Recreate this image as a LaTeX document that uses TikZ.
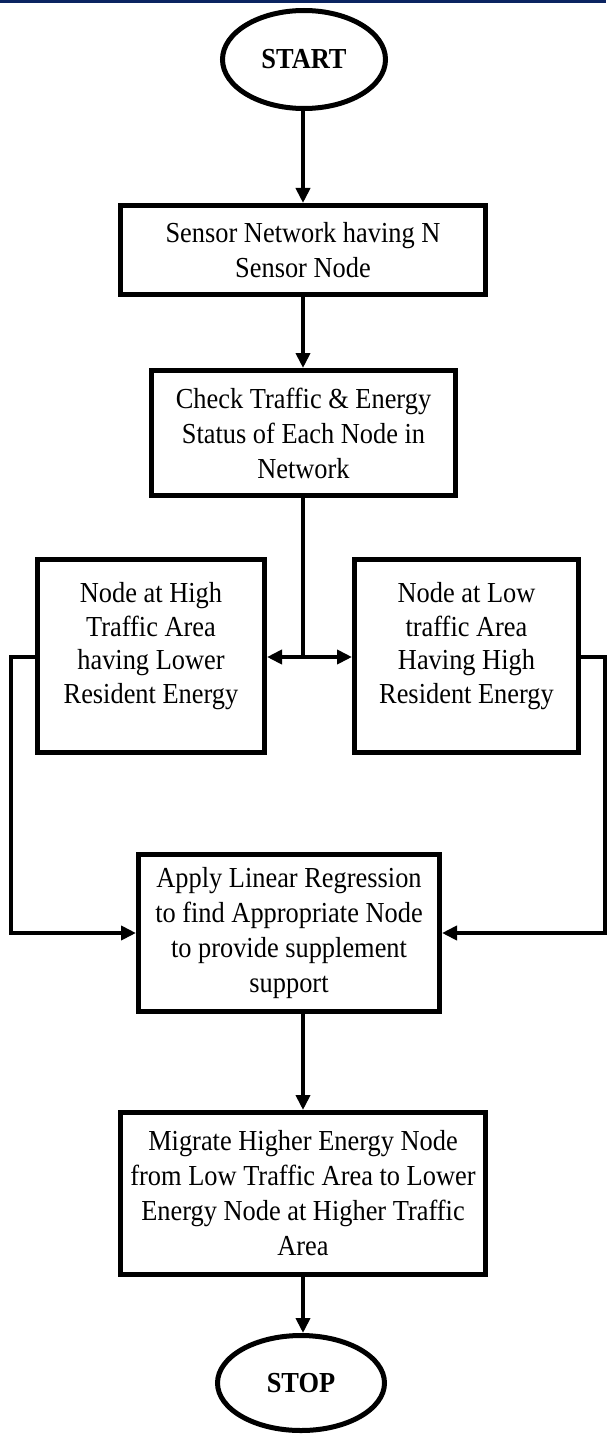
\documentclass[tikz,border=0pt]{standalone}
\usepackage{fontspec}
\setmainfont{Liberation Serif}[FakeStretch=0.91]
\usetikzlibrary{arrows.meta,shapes.geometric}
\definecolor{barblue}{HTML}{0B2461}
\newcommand\chartfont{\fontsize{29}{35}\selectfont}

\begin{document}
\begin{tikzpicture}[x=1pt,y=-1pt,
  procbox/.style={draw, line width=5pt, inner sep=0pt, align=center, font=\chartfont},
  boxtext/.style={inner sep=0pt, align=center, font=\fontsize{29}{33.5}\selectfont},
  terminal/.style={draw, ellipse, line width=5pt, inner sep=0pt, font=\chartfont\bfseries},
  link/.style={line width=4pt},
  flow/.style={line width=4pt, -{Triangle[length=15pt,width=14pt]}}]

\useasboundingbox (0,0) rectangle (606,1434);
\fill[barblue] (0,0) rectangle (606,3);

% terminals and process boxes
\node[terminal, minimum width=163, minimum height=98] (start) at (304,59.5) {START};
\node[procbox, minimum width=365, minimum height=89] (sense) at (303,250)
  {Sensor Network having N\\Sensor Node};
\node[procbox, minimum width=304, minimum height=125] (check) at (303.5,433)
  {Check Traffic \& Energy\\Status of Each Node in\\Network};

\node[procbox, minimum width=227, minimum height=193] (hi) at (151,656) {};
\node[boxtext] (hitext) at (151,646)
  {Node at High\\Traffic Area\\having Lower\\Resident Energy};
\node[procbox, minimum width=224, minimum height=193] (lo) at (466.5,656) {};
\node[boxtext] (lotext) at (466.5,646)
  {Node at Low\\traffic Area\\Having High\\Resident Energy};

\node[procbox, minimum width=301, minimum height=157] (apply) at (289,933)
  {Apply Linear Regression\\to find Appropriate Node\\to provide supplement\\support};
\node[procbox, minimum width=365, minimum height=162] (migrate) at (303,1193.5)
  {Migrate Higher Energy Node\\from Low Traffic Area to Lower\\Energy Node at Higher Traffic\\Area};
\node[terminal, minimum width=167, minimum height=95] (stop) at (301,1383) {STOP};

% connectors
\coordinate (spine) at (303,0);
\coordinate (split) at (303,657);
\coordinate (ltop) at (11,657);
\coordinate (lbot) at (11,933);
\coordinate (rtop) at (604.5,657);
\coordinate (rbot) at (604.5,933);

\draw[flow] (spine |- start.south) -- (spine |- sense.north);
\draw[flow] (spine |- sense.south) -- (spine |- check.north);
\draw[link] (spine |- check.south) -- (split);
\draw[flow] (split) -- (split -| hi.east);
\draw[flow] (split) -- (split -| lo.west);
\draw[flow] (ltop -| hi.west) -- (ltop) -- (lbot) -- (lbot -| apply.west);
\draw[flow] (rtop -| lo.east) -- (rtop) -- (rbot) -- (rbot -| apply.east);
\draw[flow] (spine |- apply.south) -- (spine |- migrate.north);
\draw[flow] (spine |- migrate.south) -- (spine |- stop.north);
\end{tikzpicture}
\end{document}
